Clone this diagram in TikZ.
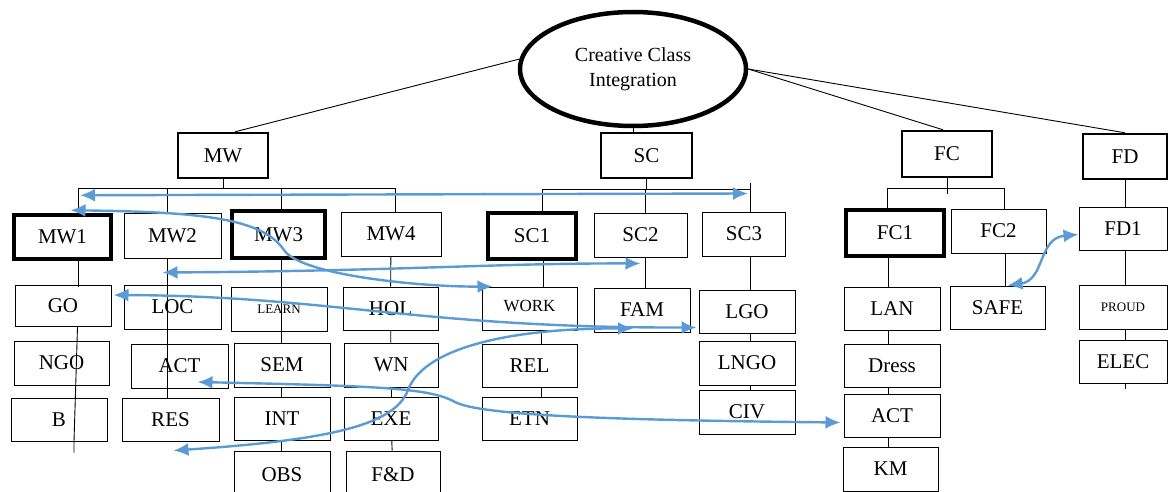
\documentclass[tikz,border=0pt]{standalone}
\usepackage{fontspec}
\setmainfont{Liberation Serif}
\usepackage{xcolor}
\usepackage{tikz}
\usetikzlibrary{shapes.geometric,arrows.meta}
\definecolor{linkblue}{RGB}{91,155,213}

\begin{document}
\begin{tikzpicture}[x=1pt, y=-1pt,
    font=\fontsize{21}{24}\selectfont,
    tie/.style={draw=black, line width=0.9pt},
    box/.style={draw, line width=1pt, inner sep=0pt, minimum width=96pt, minimum height=44pt},
    keybox/.style={box, line width=3.5pt},
    headbox/.style={box, line width=2.4pt, minimum height=45pt},
    rootnode/.style={ellipse, draw, line width=4.5pt, minimum width=226pt, minimum height=114pt,
                     inner sep=0pt, align=center, font=\fontsize{20}{25}\selectfont},
    link/.style={linkblue, line width=2.4pt, {Latex[length=15pt,width=13pt]}-{Latex[length=15pt,width=13pt]}}]
  \useasboundingbox (0,0) rectangle (1169,492);
  \clip (0,0) rectangle (1169,492);

  \node[rootnode] (root) at (633,69) {Creative Class\\Integration};
  \node[headbox, minimum width=90pt] (mw) at (223,155.5) {MW};
  \node[headbox, minimum width=91pt] (sc) at (646.5,155.5) {SC};
  \node[headbox, minimum width=90pt, minimum height=46pt] (fc) at (947,154) {FC};
  \node[headbox, minimum width=84pt] (fd) at (1125,156.5) {FD};

  \node[keybox, minimum width=97pt] (mw1) at (62.5,237) {MW1};
  \node[box, minimum width=97pt, minimum height=45pt] (mw2) at (172.5,235.5) {MW2};
  \node[keybox, minimum width=93pt, minimum height=47pt] (mw3) at (278.5,234.5) {MW3};
  \node[box, minimum width=100pt] (mw4) at (391,234) {MW4};
  \node[keybox, minimum width=88pt, minimum height=46pt] (sc1) at (532,236) {SC1};
  \node[box, minimum width=93pt] (sc2) at (640.5,235) {SC2};
  \node[box, minimum width=83pt] (sc3) at (744,234) {SC3};
  \node[keybox, minimum width=98pt, minimum height=46pt] (fc1) at (895,233) {FC1};
  \node[box, minimum width=95pt] (fc2) at (998.5,231) {FC2};
  \node[box, minimum width=88pt, minimum height=43pt] (fd1) at (1123,228.5) {FD1};

  \node[box, minimum height=41pt] (go) at (63,306) {GO};
  \node[box, minimum width=97pt] (loc) at (172.5,307) {LOC};
  \node[box, font=\fontsize{13}{15}\selectfont] (learn) at (279,309) {LEARN};
  \node[box, minimum width=95pt, minimum height=43pt] (hol) at (390.5,308.5) {HOL};
  \node[box, minimum width=95pt, minimum height=43pt, font=\fontsize{17}{20}\selectfont] (work) at (529.5,308.5) {\raisebox{6pt}{WORK}};
  \node[box] (fam) at (642,310) {FAM};
  \node[box, minimum height=43pt] (lgo) at (747,311.5) {LGO};
  \node[box, minimum height=43pt] (lan) at (892,308.5) {LAN};
  \node[box, minimum width=95pt, minimum height=43pt] (safe) at (997.5,307.5) {SAFE};
  \node[box, minimum width=88pt, font=\fontsize{13}{15}\selectfont] (proud) at (1123,307) {PROUD};

  \node[box, minimum width=95pt] (ngo) at (61.5,363) {NGO};
  \node[box, minimum width=97pt] (act) at (179.5,366) {ACT};
  \node[box] (sem) at (282,365) {SEM};
  \node[box, minimum width=94pt] (wn) at (391,365) {WN};
  \node[box, minimum width=95pt, minimum height=43pt] (rel) at (529.5,366) {REL};
  \node[box] (lngo) at (747,363) {LNGO};
  \node[box, minimum height=43pt] (dress) at (892,365.5) {Dress};
  \node[box, minimum width=88pt, minimum height=43pt] (elec) at (1123,361.5) {ELEC};

  \node[box, minimum height=43pt] (b) at (59,419.5) {B};
  \node[box, minimum width=97pt, minimum height=43pt] (res) at (170.5,419.5) {RES};
  \node[box, minimum height=43pt] (int) at (282,418.5) {INT};
  \node[box, minimum width=94pt, minimum height=43pt] (exe) at (391,418.5) {EXE};
  \node[box, minimum width=95pt, minimum height=43pt] (etn) at (529.5,418.5) {ETN};
  \node[box] (civ) at (747,412) {CIV};
  \node[box, minimum height=43pt] (actf) at (892,415.5) {ACT};

  \node[box, minimum height=48pt] (obs) at (282,475) {OBS};
  \node[box, minimum width=94pt, minimum height=48pt] (fnd) at (393,475) {F\&D};
  \node[box, minimum width=95pt] (km) at (890.5,469) {KM};

  \draw[tie] (root.175) -- ([xshift=12pt]mw.north);
  \draw[tie] (root.south) -- (root.south |- sc.north);
  \draw[tie] (root.east) -- ([xshift=-4pt]fc.north);
  \draw[tie] (root.east) -- (fd.north);

  \draw[tie] (mw.south) -- ++(0,9) coordinate (mwbar);
  \draw[tie] ([xshift=16pt]mw1.north) |- (mwbar) -| ([xshift=4pt]mw4.north);
  \draw[tie] (mwbar) -| ([xshift=-5.5pt]mw2.north);
  \draw[tie] (mwbar) -| ([xshift=2.5pt]mw3.north);
  \draw[tie] ([xshift=16pt]mw1.south) -- ++(0,26.5);
  \draw[tie] ([xshift=14.5pt]go.south) -- ([xshift=15pt]b.south) -- ++(0,11);
  \draw[tie] ([xshift=-5.5pt]mw2.south) -- ([xshift=-3.5pt]res.north);
  \draw[tie] ([xshift=2.5pt]mw3.south) -- ([xshift=-1pt]sem.north);
  \draw[tie] ([xshift=-1pt]sem.south) -- ([xshift=-1pt]int.north);
  \draw[tie] ([xshift=-1pt]int.south) -- ([xshift=-1pt]obs.north);
  \draw[tie] (mw4) -- (hol);
  \draw[tie] (hol) -- (wn);
  \draw[tie] (wn) -- (exe);
  \draw[tie] (exe) -- (fnd);

  \draw[tie] (sc.south) -- ++(0,10) coordinate (scbar);
  \draw[tie] ([xshift=10pt]sc1.north) |- (scbar) -| ([xshift=6pt]sc3.north);
  \draw[tie] ([xshift=6pt]sc3.north) -- ++(0,-29);
  \draw[tie] (scbar) -| ([xshift=4.5pt]sc2.north);
  \draw[tie] ([xshift=11pt]sc1.south) -- ([xshift=13.5pt]work.north);
  \draw[tie] ([xshift=11.5pt]work.south) -- ([xshift=11.5pt]rel.north);
  \draw[tie] ([xshift=11.5pt]rel.south) -- ([xshift=11.5pt]etn.north);
  \draw[tie] ([xshift=4.5pt]sc2.south) -- ([xshift=3pt]fam.north);
  \draw[tie] ([xshift=6pt]sc3.south) -- ([xshift=3pt]lgo.north);
  \draw[tie] ([xshift=3pt]lgo.south) -- ([xshift=3pt]lngo.north);
  \draw[tie] ([xshift=3pt]lngo.south) -- ([xshift=3pt]civ.north);

  \draw[tie] (fc.south) -- ++(0,10) coordinate (fcbar) -- ++(0,6);
  \draw[tie] ([xshift=-8pt]fc1.north) |- (fcbar) -| ([xshift=5.5pt]fc2.north);
  \draw[tie] ([xshift=-7pt]fc1.south) -- ([xshift=-4pt]lan.north);
  \draw[tie] ([xshift=-4pt]lan.south) -- ([xshift=-4pt]dress.north);
  \draw[tie] ([xshift=-4pt]dress.south) -- ([xshift=-4pt]actf.north);
  \draw[tie] ([xshift=-4pt]actf.south) -- ([xshift=-2.5pt]km.north);
  \draw[tie] ([xshift=6.5pt]fc2.south) -- ([xshift=7.5pt]safe.north);
  \draw[tie] (fd.south) -- ([xshift=2pt]fd1.north);
  \draw[tie] ([xshift=2pt]fd1.south) -- ([xshift=2pt]proud.north);
  \draw[tie] ([xshift=2pt]proud.south) -- ([xshift=2pt]elec.north);
  \draw[tie] ([xshift=2pt]elec.south) -- ++(0,5);

  \draw[link] ([xshift=17.5pt,yshift=18pt]mw1.north) -- ([xshift=4pt,yshift=18pt]sc3.north);
  \draw[link] ([xshift=8pt,yshift=3pt]mw1.north) .. controls (200,212) and (262,218) .. (284,250)
              .. controls (300,275) and (420,287) .. ([xshift=11pt]work.north west);
  \draw[link] ([xshift=-10pt,yshift=-14pt]mw2.south) .. controls (400,271) and (500,263) .. ([yshift=-6pt]sc2.south);
  \draw[link] ([xshift=2pt,yshift=11pt]go.east) .. controls (330,296) and (420,328) .. ([xshift=-2pt,yshift=-16pt]lgo.west);
  \draw[link] ([xshift=3pt,yshift=-9pt]res.south) .. controls (330,440) and (395,425) .. (408,390)
              .. controls (425,345) and (520,328) .. ([xshift=-9pt,yshift=4pt]fam.south);
  \draw[link] ([xshift=18pt,yshift=-16pt]act.center) .. controls (380,386) and (430,388) .. (455,402)
              .. controls (480,415) and (600,420) .. ([xshift=-3pt,yshift=-7pt]actf.west);
  \draw[link] ([xshift=10pt]safe.north) .. controls (1045,280) and (1038,238) .. ([yshift=-6pt]fd1.west);
\end{tikzpicture}
\end{document}
